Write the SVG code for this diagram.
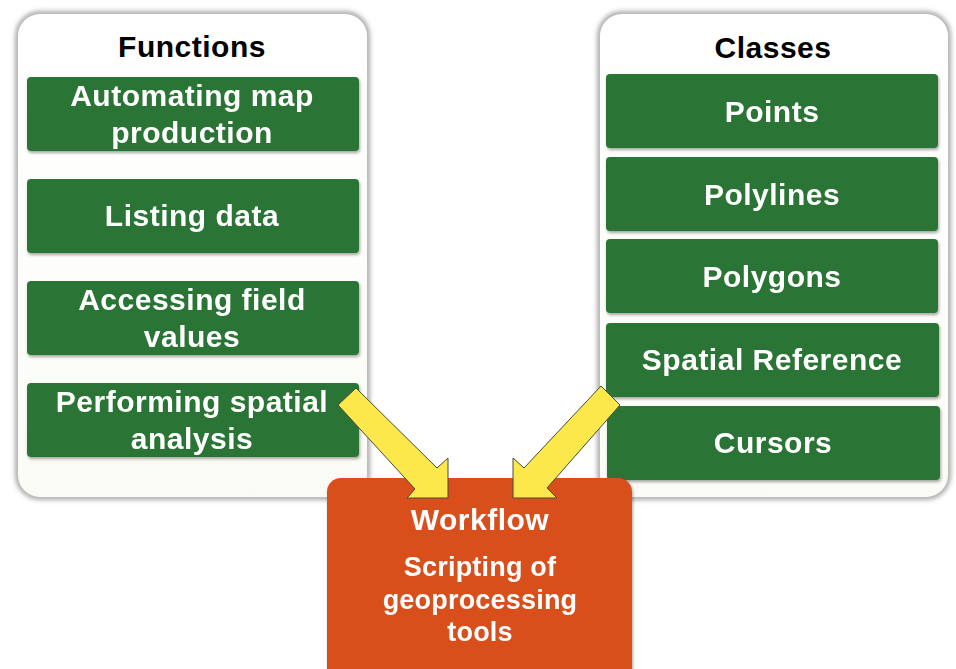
<svg xmlns="http://www.w3.org/2000/svg" width="956" height="669" viewBox="0 0 956 669">
  <defs>
    <linearGradient id="panelFill" x1="0" y1="0" x2="0" y2="1">
      <stop offset="0" stop-color="#ffffff"/>
      <stop offset="1" stop-color="#fbfbf6"/>
    </linearGradient>
    <filter id="soft" x="-10%" y="-10%" width="120%" height="120%">
      <feGaussianBlur stdDeviation="2.5"/>
    </filter>
    <filter id="shadow" x="-5%" y="-5%" width="110%" height="115%">
      <feDropShadow dx="1" dy="2" stdDeviation="1.5" flood-color="#000" flood-opacity="0.35"/>
    </filter>
  </defs>
  <style>
    .panel { fill: url(#panelFill); }
    .panel-edge { fill: none; stroke: #9a9a9a; stroke-width: 5; }
    .item { fill: #2b7535; }
    .head { font-family: "Liberation Sans", Arial, sans-serif; font-weight: bold; font-size: 30px; letter-spacing: 0.5px; fill: #000; text-anchor: middle; }
    .label { font-family: "Liberation Sans", Arial, sans-serif; font-weight: bold; font-size: 30px; letter-spacing: 0.5px; fill: #fff; text-anchor: middle; }
    .sub { font-family: "Liberation Sans", Arial, sans-serif; font-weight: bold; font-size: 27px; letter-spacing: 0.2px; fill: #fff; text-anchor: middle; }
    .arrow { fill: #fde84b; stroke: #4a4a3a; stroke-width: 1; stroke-linejoin: miter; }
  </style>
  <rect width="956" height="669" fill="#ffffff"/>

  <!-- Functions panel -->
  <g id="functions">
    <rect class="panel-edge" x="18" y="14" width="349" height="483" rx="22" filter="url(#soft)"/>
    <rect class="panel" x="18" y="14" width="349" height="483" rx="22"/>
    <text class="head" x="192" y="57">Functions</text>
  </g>
  <g id="fn-automating" filter="url(#shadow)">
    <rect class="item" x="27" y="77" width="332" height="74" rx="4"/>
    <text class="label" x="192" y="106">Automating map</text>
    <text class="label" x="192" y="143">production</text>
  </g>
  <g id="fn-listing" filter="url(#shadow)">
    <rect class="item" x="27" y="179" width="332" height="74" rx="4"/>
    <text class="label" x="192" y="226">Listing data</text>
  </g>
  <g id="fn-accessing" filter="url(#shadow)">
    <rect class="item" x="27" y="281" width="332" height="74" rx="4"/>
    <text class="label" x="192" y="310">Accessing field</text>
    <text class="label" x="192" y="347">values</text>
  </g>
  <g id="fn-performing" filter="url(#shadow)">
    <rect class="item" x="27" y="383" width="332" height="74" rx="4"/>
    <text class="label" x="192" y="412">Performing spatial</text>
    <text class="label" x="192" y="449">analysis</text>
  </g>

  <!-- Classes panel -->
  <g id="classes">
    <rect class="panel-edge" x="600" y="14" width="348" height="483" rx="22" filter="url(#soft)"/>
    <rect class="panel" x="600" y="14" width="348" height="483" rx="22"/>
    <text class="head" x="773" y="58">Classes</text>
  </g>
  <g id="cls-points" filter="url(#shadow)">
    <rect class="item" x="606" y="74" width="332" height="74" rx="4"/>
    <text class="label" x="772" y="122">Points</text>
  </g>
  <g id="cls-polylines" filter="url(#shadow)">
    <rect class="item" x="606" y="157" width="332" height="74" rx="4"/>
    <text class="label" x="772" y="205">Polylines</text>
  </g>
  <g id="cls-polygons" filter="url(#shadow)">
    <rect class="item" x="606" y="239" width="332" height="74" rx="4"/>
    <text class="label" x="772" y="287">Polygons</text>
  </g>
  <g id="cls-spatialref" filter="url(#shadow)">
    <rect class="item" x="606" y="323" width="333" height="74" rx="4"/>
    <text class="label" x="772" y="370">Spatial Reference</text>
  </g>
  <g id="cls-cursors" filter="url(#shadow)">
    <rect class="item" x="607" y="406" width="333" height="74" rx="4"/>
    <text class="label" x="773" y="453">Cursors</text>
  </g>

  <!-- Workflow box -->
  <g id="workflow" filter="url(#shadow)">
    <rect x="327" y="478" width="305" height="205" rx="14" fill="#d94f1e"/>
    <text class="label" x="480" y="530">Workflow</text>
    <text class="sub" x="480" y="576">Scripting of</text>
    <text class="sub" x="480" y="609">geoprocessing</text>
    <text class="sub" x="480" y="641">tools</text>
  </g>

  <!-- Block arrows into the workflow -->
  <g id="connectors">
    <polygon class="arrow" points="338,405 415,489 407,498 448,498 448,458 437,468 356,388"/>
    <polygon class="arrow" points="601,386 524,468 513,458 513,498 557,498 547,488 620,405"/>
  </g>
</svg>
